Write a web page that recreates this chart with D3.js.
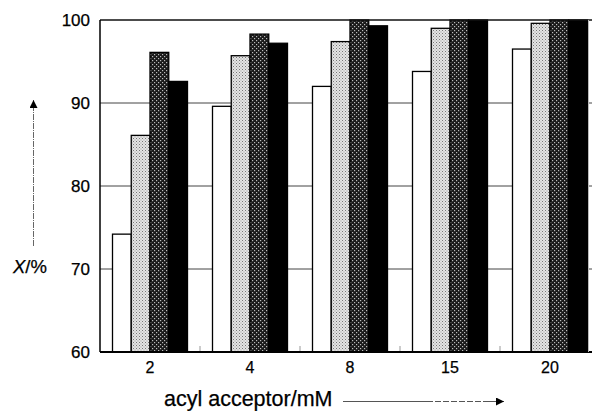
<!DOCTYPE html>
<html>
<head>
<meta charset="utf-8">
<script src="https://cdn.jsdelivr.net/npm/d3@7"></script>
<style>
  body { margin: 0; background: #fff; }
  text { font-family: Arial, "Liberation Sans", sans-serif; fill: #000; stroke: #000; stroke-width: 0.25px; }
</style>
</head>
<body>
<div id="chart"></div>
<script>
// acyl acceptor concentrations (mM)
var categories = ["2", "4", "8", "15", "20"];
var seriesNames = ["s1", "s2", "s3", "s4"];

// conversion X/% per series
var s1 = [74.2, 89.6, 92.0, 93.8, 96.5];
var s2 = [86.1, 95.7, 97.4, 99.0, 99.6];
var s3 = [96.1, 98.3, 100, 100, 100];
var s4 = [92.6, 97.2, 99.3, 100, 100];

var yTicks = [60, 70, 80, 90, 100];

var width = 592, height = 411;
var margin = {left: 100, top: 20};

var svg = d3.select("#chart").append("svg")
	.attr("width", width)
	.attr("height", height);

var defs = svg.append("defs");

// light stipple
var pl = defs.append("pattern")
	.attr("id", "light")
	.attr("patternUnits", "userSpaceOnUse")
	.attr("width", 3).attr("height", 3);
pl.append("rect").attr("width", 3).attr("height", 3).attr("fill", "#e4e4e4");
pl.append("rect").attr("x", 0).attr("y", 0).attr("width", 1).attr("height", 1).attr("fill", "#777");
pl.append("rect").attr("x", 1.5).attr("y", 1.5).attr("width", 1).attr("height", 1).attr("fill", "#999");

// dark checker
var pd = defs.append("pattern")
	.attr("id", "dark")
	.attr("patternUnits", "userSpaceOnUse")
	.attr("width", 4).attr("height", 4);
pd.append("rect").attr("width", 4).attr("height", 4).attr("fill", "#1a1a1a");
pd.append("rect").attr("x", 0).attr("y", 0).attr("width", 1.2).attr("height", 1.2).attr("fill", "#bbb");
pd.append("rect").attr("x", 2).attr("y", 2).attr("width", 1.2).attr("height", 1.2).attr("fill", "#bbb");

var fills = {s1: "#fff", s2: "url(#light)", s3: "url(#dark)", s4: "#000"};

var x0 = d3.scaleBand()
	.domain(categories)
	.range([margin.left, 600]);

var x1 = d3.scaleBand()
	.domain(seriesNames)
	.range([12.5, 87.5]);

var y = d3.scaleLinear()
	.domain([60, 100])
	.range([352, 20]);

// gridlines
svg.append("g")
	.selectAll("line")
	.data(yTicks.filter(function(d) { return d > 60 && d < 100; }))
	.enter().append("line")
	.attr("x1", margin.left).attr("x2", width)
	.attr("y1", function(d) { return y(d); })
	.attr("y2", function(d) { return y(d); })
	.attr("stroke", "#444")
	.attr("stroke-width", 1);

// x ticks (group boundaries)
svg.append("g")
	.selectAll("line")
	.data(categories.slice(1))
	.enter().append("line")
	.attr("x1", function(d) { return x0(d); })
	.attr("x2", function(d) { return x0(d); })
	.attr("y1", y(60)).attr("y2", y(60) - 6)
	.attr("stroke", "#999")
	.attr("stroke-width", 1);

// bars
var table = categories.map(function(c, i) {
	return {cat: c, values: [
		{key: "s1", v: s1[i]},
		{key: "s2", v: s2[i]},
		{key: "s3", v: s3[i]},
		{key: "s4", v: s4[i]}
	]};
});

var groups = svg.append("g")
	.selectAll("g")
	.data(table)
	.enter().append("g")
	.attr("transform", function(d) { return "translate(" + x0(d.cat) + ",0)"; });

groups.selectAll("rect")
	.data(function(d) { return d.values; })
	.enter().append("rect")
	.attr("x", function(d) { return x1(d.key); })
	.attr("width", x1.bandwidth())
	.attr("y", function(d) { return y(d.v); })
	.attr("height", function(d) { return y(60) - y(d.v); })
	.attr("fill", function(d) { return fills[d.key]; })
	.attr("stroke", "#000")
	.attr("stroke-width", 1.3);

// frame
svg.append("line")
	.attr("x1", margin.left).attr("x2", width)
	.attr("y1", y(100)).attr("y2", y(100))
	.attr("stroke", "#111").attr("stroke-width", 1.6);
svg.append("line")
	.attr("x1", margin.left).attr("x2", width)
	.attr("y1", y(60)).attr("y2", y(60))
	.attr("stroke", "#000").attr("stroke-width", 2);
svg.append("line")
	.attr("x1", margin.left).attr("x2", margin.left)
	.attr("y1", y(100)).attr("y2", y(60))
	.attr("stroke", "#000").attr("stroke-width", 1.5);
svg.append("line")
	.attr("x1", 588.5).attr("x2", 588.5)
	.attr("y1", y(100)).attr("y2", y(60))
	.attr("stroke", "#bbb").attr("stroke-width", 1);

// y tick labels
svg.append("g")
	.selectAll("text")
	.data(yTicks)
	.enter().append("text")
	.attr("x", 90)
	.attr("y", function(d) { return y(d); })
	.attr("dy", "0.36em")
	.attr("text-anchor", "end")
	.style("font-size", "17px")
	.text(function(d) { return d; });

// x tick labels
svg.append("g")
	.selectAll("text")
	.data(categories)
	.enter().append("text")
	.attr("x", function(d) { return x0(d) + x0.bandwidth() / 2; })
	.attr("y", 373)
	.attr("text-anchor", "middle")
	.style("font-size", "16px")
	.text(function(d) { return d; });

// arrow marker
defs.append("marker")
	.attr("id", "arrow")
	.attr("viewBox", "0 0 10 10")
	.attr("refX", 10).attr("refY", 5)
	.attr("markerUnits", "userSpaceOnUse")
	.attr("markerWidth", 12).attr("markerHeight", 8)
	.attr("orient", "auto")
	.append("path")
	.attr("d", "M0,0 L10,5 L0,10 z")
	.attr("fill", "#000");

// y title
var yt = svg.append("text")
	.attr("x", 13)
	.attr("y", 273)
	.style("font-size", "18.5px");
yt.append("tspan").style("font-style", "italic").text("X");
yt.append("tspan").text("/%");

svg.append("line")
	.attr("x1", 33.5).attr("x2", 33.5)
	.attr("y1", 246).attr("y2", 100)
	.attr("stroke", "#666")
	.attr("stroke-width", 1)
	.attr("stroke-dasharray", "6,1,1,1")
	.attr("marker-end", "url(#arrow)");

// x title
svg.append("text")
	.attr("x", 164)
	.attr("y", 406)
	.style("font-size", "21.5px")
	.text("acyl acceptor/mM");

svg.append("line")
	.attr("x1", 343).attr("x2", 504)
	.attr("y1", 401.5).attr("y2", 401.5)
	.attr("stroke", "#555")
	.attr("stroke-width", 1)
	.attr("stroke-dasharray", "90,2,6,2,6,2,6,2,6,2,6,2,6,2")
	.attr("marker-end", "url(#arrow)");
</script>
</body>
</html>
